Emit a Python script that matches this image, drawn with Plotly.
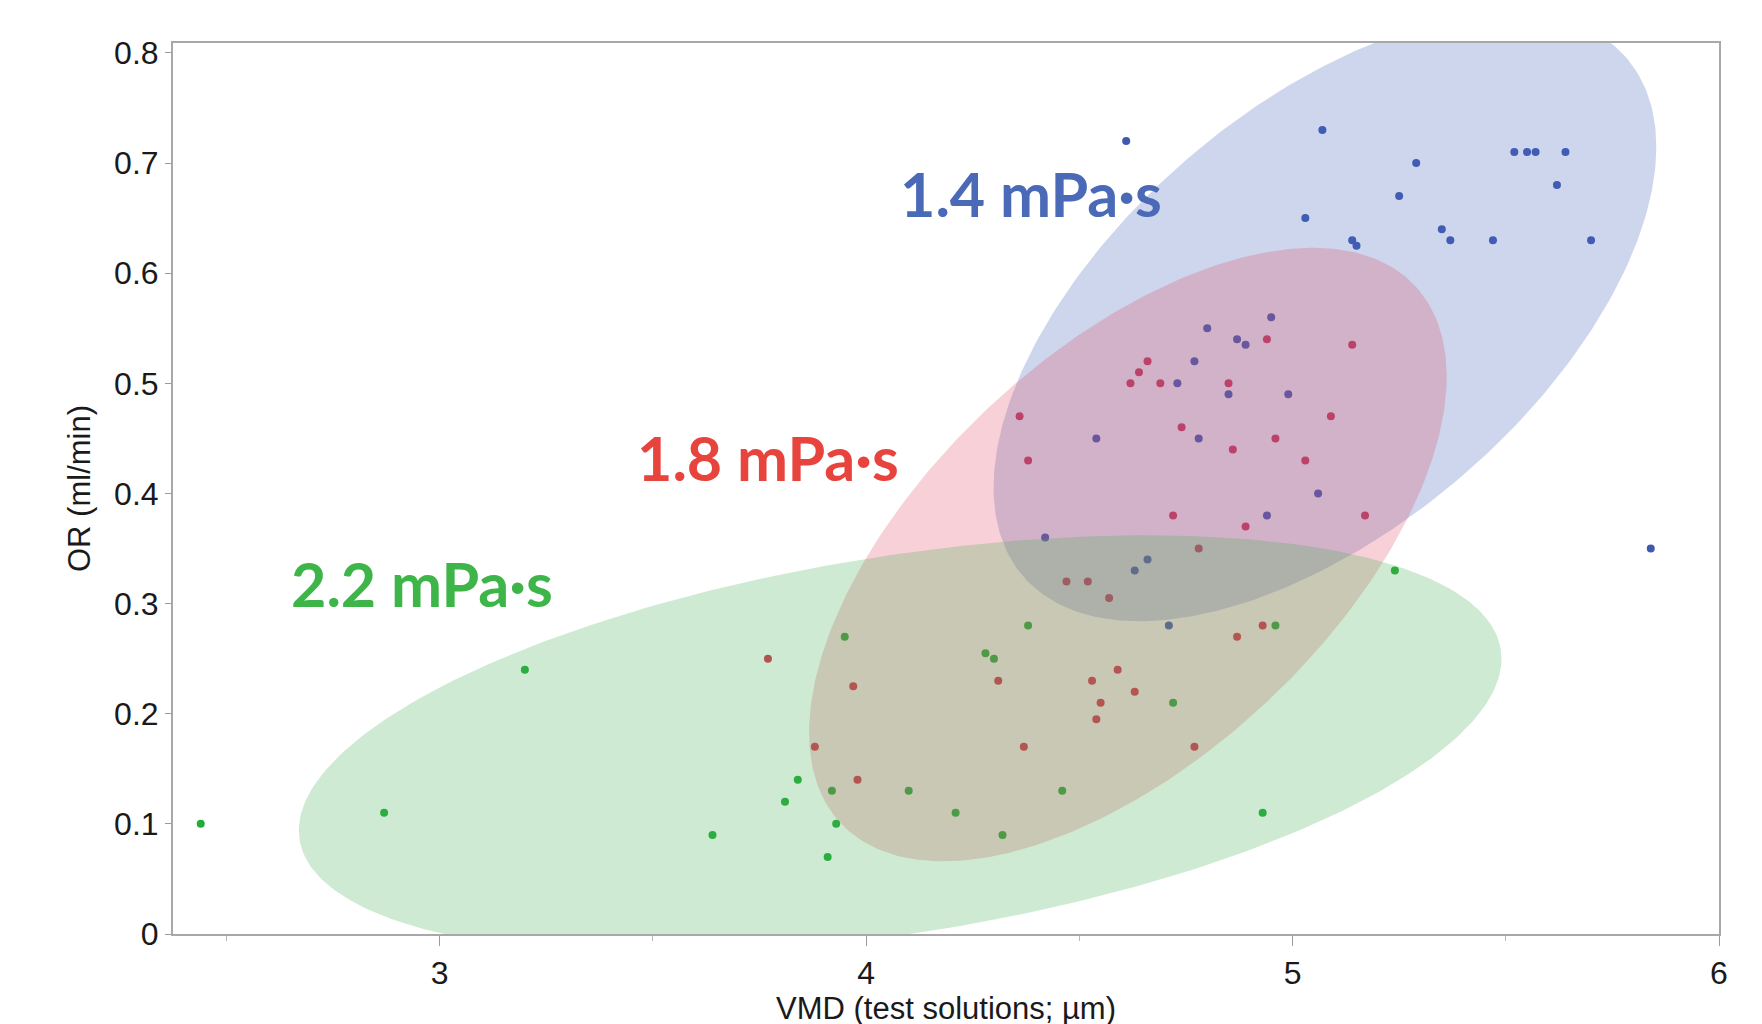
import numpy as np
import plotly.graph_objects as go

# ---- data ----
blue_x = [4.61, 5.07, 5.29, 5.52, 5.55, 5.57, 5.64, 5.03, 5.25, 5.62, 5.14, 5.15, 5.35, 5.37, 5.47, 5.70,
          4.95, 4.80, 4.87, 4.89, 4.77, 4.73, 4.85, 4.99, 4.54, 4.78, 5.06, 4.94, 4.42, 5.84, 4.66, 4.63, 4.71]
blue_y = [0.72, 0.73, 0.70, 0.71, 0.71, 0.71, 0.71, 0.65, 0.67, 0.68, 0.63, 0.625, 0.64, 0.63, 0.63, 0.63,
          0.56, 0.55, 0.54, 0.535, 0.52, 0.50, 0.49, 0.49, 0.45, 0.45, 0.40, 0.38, 0.36, 0.35, 0.34, 0.33, 0.28]

red_x = [4.66, 4.64, 4.62, 4.69, 4.94, 5.14, 4.85, 4.36, 4.74, 5.09, 4.86, 4.96, 4.38, 5.03, 4.72, 4.89,
         5.17, 4.78, 4.47, 4.52, 4.57, 3.77, 3.97, 4.31, 4.53, 4.59, 4.63, 4.55, 4.54, 4.87, 4.93, 3.88,
         4.37, 4.77, 3.98]
red_y = [0.52, 0.51, 0.50, 0.50, 0.54, 0.535, 0.50, 0.47, 0.46, 0.47, 0.44, 0.45, 0.43, 0.43, 0.38, 0.37,
         0.38, 0.35, 0.32, 0.32, 0.305, 0.25, 0.225, 0.23, 0.23, 0.24, 0.22, 0.21, 0.195, 0.27, 0.28, 0.17,
         0.17, 0.17, 0.14]

green_x = [2.44, 2.87, 3.20, 3.64, 3.81, 3.84, 3.92, 3.93, 3.91, 3.95, 4.10, 4.21, 4.28, 4.30, 4.38,
           4.32, 4.46, 4.72, 4.93, 4.96, 5.24]
green_y = [0.10, 0.11, 0.24, 0.09, 0.12, 0.14, 0.13, 0.10, 0.07, 0.27, 0.13, 0.11, 0.255, 0.25, 0.28,
           0.09, 0.13, 0.21, 0.11, 0.28, 0.33]

# density ellipses: centre, half x-extent, half y-extent, correlation
ell_names = ["1.4 mPa·s", "1.8 mPa·s", "2.2 mPa·s"]
ell_cx = [5.076, 4.614, 4.08]
ell_cy = [0.560, 0.3445, 0.172]
ell_w = [0.777, 0.7475, 1.41]
ell_h = [0.276, 0.2785, 0.19]
ell_rho = [0.56, 0.58, 0.41]

x_tick_vals = [3, 4, 5, 6]
y_tick_vals = [0, 0.1, 0.2, 0.3, 0.4, 0.5, 0.6, 0.7, 0.8]

# ---- styles ----
pt_colors = ["#3f58b2", "#d8334f", "#22ad3a"]
fill_colors = ["rgba(70,105,190,0.27)", "rgba(225,70,95,0.25)", "rgba(70,175,80,0.26)"]
label_colors = ["#4a69b6", "#e8443e", "#3db549"]
label_pos = [(4.387, 0.672), (3.77, 0.433), (2.96, 0.318)]

fig = go.Figure()
for xs, ys, c in [(blue_x, blue_y, pt_colors[0]), (red_x, red_y, pt_colors[1]), (green_x, green_y, pt_colors[2])]:
    fig.add_trace(go.Scatter(x=xs, y=ys, mode="markers",
                             marker=dict(size=8, color=c, line=dict(width=0)),
                             showlegend=False, hoverinfo="x+y"))

t = np.linspace(0, 2 * np.pi, 361)
for i in range(3):
    phi = np.arccos(ell_rho[i])
    ex = ell_cx[i] + ell_w[i] * np.cos(t)
    ey = ell_cy[i] + ell_h[i] * np.cos(t - phi)
    fig.add_trace(go.Scatter(x=ex, y=ey, mode="lines", fill="toself",
                             fillcolor=fill_colors[i], line=dict(width=0),
                             showlegend=False, hoverinfo="skip"))

for i in range(3):
    fig.add_annotation(x=label_pos[i][0], y=label_pos[i][1], text="<b>%s</b>" % ell_names[i],
                       showarrow=False, xanchor="center", yanchor="middle",
                       font=dict(family="Lato, Noto Sans, sans-serif", size=61, color=label_colors[i]))

axis_font = "Liberation Sans Narrow, Arial Narrow, Liberation Sans, sans-serif"
fig.update_layout(
    width=1762, height=1024,
    margin=dict(l=165, r=51, t=35, b=98),
    paper_bgcolor="white", plot_bgcolor="white",
    xaxis=dict(range=[2.375, 6.0], tickvals=x_tick_vals, ticks="outside", ticklen=10,
               tickcolor="#9a9a9a", showgrid=False, zeroline=False,
               showline=True, linecolor="#a8a8a8", linewidth=2, mirror=True,
               minor=dict(tickvals=[2.5, 3.5, 4.5, 5.5], ticks="outside", ticklen=5, tickcolor="#b8b8b8"),
               tickfont=dict(family=axis_font, size=32, color="#1a1a1a"),
               title=dict(text="VMD (test solutions; µm)", font=dict(family=axis_font, size=31, color="#1a1a1a"),
                          standoff=6)),
    yaxis=dict(range=[0, 0.809], tickvals=y_tick_vals, ticks="outside", ticklen=6,
               tickcolor="#9a9a9a", showgrid=False, zeroline=False,
               showline=True, linecolor="#a8a8a8", linewidth=2, mirror=True,
               tickfont=dict(family="Liberation Sans, Arial, sans-serif", size=32, color="#1a1a1a"),
               title=dict(text="OR (ml/min)", font=dict(family=axis_font, size=31, color="#1a1a1a"),
                          standoff=14)),
)

fig.write_html("out.html")
